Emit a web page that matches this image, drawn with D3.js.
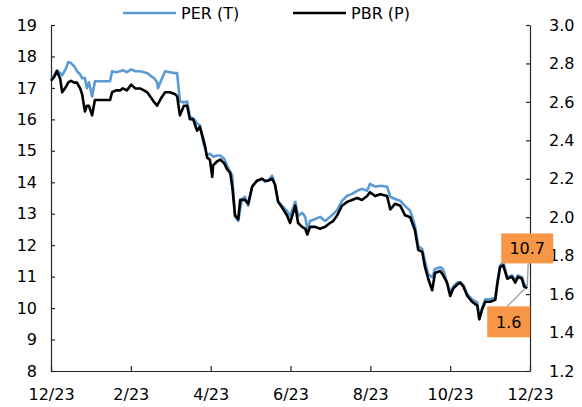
<!DOCTYPE html>
<html>
<head>
<meta charset="utf-8">
<script src="https://cdn.jsdelivr.net/npm/d3@7"></script>
<style>
    body { margin: 0; background: #fff; }
    svg text { font-family: "DejaVu Sans", Verdana, sans-serif; font-size: 16px; fill: #000; }
</style>
</head>
<body>
<script>
// x positions in months since the first 12/23 tick
var months = [0.00, 0.08, 0.15, 0.23, 0.28, 0.38, 0.43, 0.50, 0.58, 0.65, 0.73, 0.78, 0.85, 0.90, 0.95,
    1.03, 1.10, 1.23, 1.35, 1.48, 1.53, 1.63, 1.73, 1.80, 1.90, 2.01, 2.11, 2.23, 2.33, 2.41, 2.48,
    2.58, 2.66, 2.68, 2.76, 2.86, 2.98, 3.11, 3.16, 3.23, 3.33, 3.41, 3.48, 3.56, 3.61, 3.66, 3.73,
    3.81, 3.86, 3.91, 3.98, 4.04, 4.06, 4.16, 4.24, 4.34, 4.41, 4.49, 4.54, 4.61, 4.69, 4.74, 4.79,
    4.86, 4.94, 5.04, 5.16, 5.29, 5.36, 5.44, 5.54, 5.61, 5.69, 5.79, 5.91, 5.99, 6.12, 6.19, 6.29,
    6.37, 6.42, 6.49, 6.62, 6.74, 6.87, 6.99, 7.07, 7.17, 7.29, 7.42, 7.54, 7.67, 7.79, 7.92, 7.99,
    8.12, 8.25, 8.42, 8.50, 8.62, 8.75, 8.87, 9.00, 9.12, 9.20, 9.30, 9.37, 9.45, 9.55, 9.62, 9.75,
    9.82, 9.92, 10.00, 10.08, 10.18, 10.25, 10.33, 10.43, 10.55, 10.68, 10.73, 10.80, 10.88, 11.00,
    11.13, 11.18, 11.25, 11.33, 11.43, 11.55, 11.63, 11.70, 11.80, 11.85, 11.93];

var per = [17.27, 17.40, 17.56, 17.47, 17.40, 17.63, 17.82, 17.79, 17.69, 17.53, 17.43, 17.31, 17.31, 16.99, 17.18,
    16.73, 17.21, 17.21, 17.21, 17.21, 17.53, 17.50, 17.53, 17.56, 17.50, 17.59, 17.53, 17.53, 17.50, 17.47, 17.40,
    17.31, 17.18, 16.99, 17.24, 17.53, 17.50, 17.47, 17.47, 16.57, 16.54, 16.57, 16.09, 16.03, 15.96, 15.87, 15.81,
    15.29, 15.07, 14.85, 14.91, 14.85, 14.81, 14.85, 14.85, 14.75, 14.53, 14.34, 14.21, 12.93, 12.77, 13.15, 13.47,
    13.54, 13.25, 13.86, 14.05, 14.11, 14.02, 14.05, 14.21, 13.95, 13.38, 13.25, 13.09, 12.93, 13.38, 12.93, 13.03,
    12.90, 12.51, 12.77, 12.83, 12.90, 12.77, 12.90, 12.99, 13.12, 13.41, 13.57, 13.63, 13.73, 13.79, 13.73, 13.95,
    13.86, 13.89, 13.86, 13.54, 13.47, 13.41, 13.25, 13.09, 12.61, 11.97, 11.88, 11.49, 11.08, 10.98, 11.24, 11.30,
    11.24, 10.82, 10.50, 10.69, 10.82, 10.82, 10.73, 10.44, 10.28, 10.18, 9.64, 10.02, 10.28, 10.28,
    10.34, 10.82, 11.36, 11.46, 10.98, 11.04, 10.89, 11.04, 10.98, 10.76, 10.69];

var pbr = [2.71, 2.73, 2.76, 2.72, 2.65, 2.68, 2.70, 2.71, 2.70, 2.70, 2.67, 2.64, 2.55, 2.58, 2.58,
    2.53, 2.61, 2.61, 2.61, 2.61, 2.65, 2.66, 2.66, 2.67, 2.66, 2.69, 2.67, 2.67, 2.66, 2.65, 2.63,
    2.60, 2.58, 2.59, 2.62, 2.65, 2.65, 2.64, 2.63, 2.53, 2.58, 2.58, 2.51, 2.51, 2.48, 2.45, 2.47,
    2.41, 2.37, 2.31, 2.30, 2.21, 2.27, 2.29, 2.30, 2.28, 2.25, 2.23, 2.16, 2.01, 1.99, 2.09, 2.09,
    2.09, 2.07, 2.16, 2.19, 2.20, 2.19, 2.19, 2.20, 2.17, 2.08, 2.05, 2.01, 1.97, 2.06, 1.97, 1.95,
    1.94, 1.91, 1.95, 1.95, 1.94, 1.95, 1.97, 1.98, 2.01, 2.06, 2.08, 2.09, 2.10, 2.09, 2.11, 2.13,
    2.11, 2.12, 2.11, 2.04, 2.07, 2.06, 2.01, 2.00, 1.93, 1.83, 1.82, 1.74, 1.68, 1.62, 1.71, 1.72,
    1.70, 1.66, 1.59, 1.63, 1.65, 1.66, 1.64, 1.59, 1.56, 1.54, 1.47, 1.52, 1.56, 1.56,
    1.57, 1.65, 1.74, 1.75, 1.68, 1.69, 1.66, 1.69, 1.68, 1.64, 1.63];

var tickLabels = ["12/23", "2/23", "4/23", "6/23", "8/23", "10/23", "12/23"];
var leftTicks = [8, 9, 10, 11, 12, 13, 14, 15, 16, 17, 18, 19];
var rightTicks = [1.2, 1.4, 1.6, 1.8, 2.0, 2.2, 2.4, 2.6, 2.8, 3.0];
var seriesNames = ["PER (T)", "PBR (P)"];
var lastLabels = ["10.7", "1.6"];

var width = 582, height = 407;
var margin = { top: 25, right: 52, bottom: 36, left: 51 };

var svg = d3.select("body").append("svg")
    .attr("width", width)
    .attr("height", height);

var x = d3.scaleLinear().domain([0, 12]).range([margin.left, width - margin.right]);
var y = d3.scaleLinear().domain([8, 19]).range([height - margin.bottom, margin.top]);
var y2 = d3.scaleLinear().domain([1.2, 3.0]).range([height - margin.bottom, margin.top]);

// axes, ticks pointing into the plot
function styleAxis(g) {
    g.selectAll("path, line").attr("stroke", "#262626").attr("stroke-width", 1.2);
    g.selectAll("text").attr("font-family", null).attr("font-size", null);
}

svg.append("g")
    .attr("transform", "translate(0," + y.range()[0] + ")")
    .call(d3.axisBottom(x)
        .tickValues(d3.range(0, 13, 2))
        .tickFormat(function (d) { return tickLabels[d / 2]; })
        .tickSizeInner(-5).tickSizeOuter(0).tickPadding(18))
    .call(styleAxis);

svg.append("g")
    .attr("transform", "translate(" + x.range()[0] + ",0)")
    .call(d3.axisLeft(y).tickValues(leftTicks)
        .tickSizeInner(-4).tickSizeOuter(0).tickPadding(14))
    .call(styleAxis);

svg.append("g")
    .attr("transform", "translate(" + x.range()[1] + ",0)")
    .call(d3.axisRight(y2).tickValues(rightTicks).tickFormat(d3.format(".1f"))
        .tickSizeInner(-4).tickSizeOuter(0).tickPadding(19))
    .call(styleAxis);

var perLine = d3.line()
    .x(function (d, i) { return x(months[i]); })
    .y(function (d) { return y(d); });
var pbrLine = d3.line()
    .x(function (d, i) { return x(months[i]); })
    .y(function (d) { return y2(d); });

svg.append("path")
    .datum(per)
    .attr("d", perLine)
    .attr("fill", "none")
    .attr("stroke", "#5B9BD5")
    .attr("stroke-width", 2.6)
    .attr("stroke-linejoin", "round");

svg.append("path")
    .datum(pbr)
    .attr("d", pbrLine)
    .attr("fill", "none")
    .attr("stroke", "#000")
    .attr("stroke-width", 2.6)
    .attr("stroke-linejoin", "round");

// legend
var legend = svg.append("g").attr("class", "legend");
[["#5B9BD5", 123], ["#000", 293]].forEach(function (d, i) {
    legend.append("line")
        .attr("x1", d[1]).attr("x2", d[1] + 53)
        .attr("y1", 13).attr("y2", 13)
        .attr("stroke", d[0]).attr("stroke-width", 2.6);
    legend.append("text")
        .attr("x", d[1] + 58).attr("y", 13).attr("dy", "0.35em")
        .text(seriesNames[i]);
});

// last-value callouts
var n = months.length - 1;
var endX = x(months[n]);
var callouts = [
    { text: lastLabels[0], px: endX, py: y(per[n]), bx: endX - 26, by: y(per[n]) - 53, bw: 52, bh: 30, ax: endX + 1, ay: y(per[n]) - 23 },
    { text: lastLabels[1], px: endX - 2, py: y2(pbr[n]), bx: endX - 40, by: y2(pbr[n]) + 18, bw: 43, bh: 31, ax: endX - 20, ay: y2(pbr[n]) + 18 }
];

callouts.forEach(function (c) {
    svg.append("line")
        .attr("x1", c.ax).attr("y1", c.ay)
        .attr("x2", c.px).attr("y2", c.py)
        .attr("stroke", "#A6A6A6").attr("stroke-width", 1.5);
    svg.append("rect")
        .attr("x", c.bx).attr("y", c.by)
        .attr("width", c.bw).attr("height", c.bh)
        .attr("fill", "#F79646");
    svg.append("text")
        .attr("x", c.bx + c.bw / 2).attr("y", c.by + c.bh / 2).attr("dy", "0.36em")
        .attr("text-anchor", "middle")
        .text(c.text);
});
</script>
</body>
</html>
